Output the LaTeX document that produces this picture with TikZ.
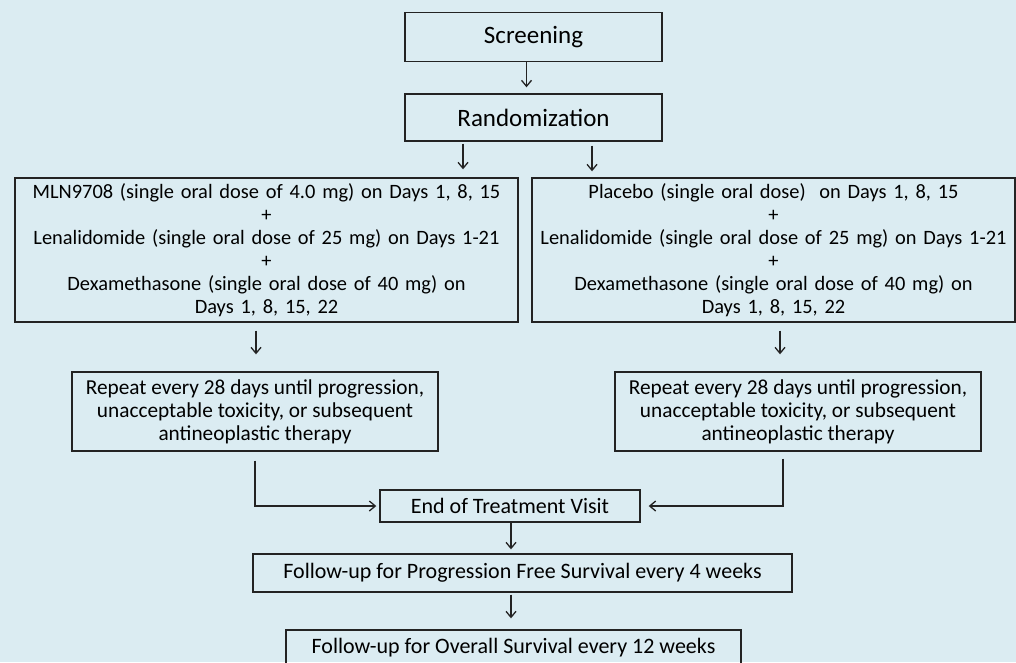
\documentclass[tikz,border=0pt]{standalone}
\usepackage{fontspec}
\setmainfont{Carlito}
\usepackage{tikz}
\usetikzlibrary{positioning,
				arrows.meta}
\definecolor{bgblue}{RGB}{219,236,242}
\definecolor{inkgray}{RGB}{35,35,35}
\frenchspacing

\begin{document}
\begin{tikzpicture}[x=1pt,y=-1pt,
		box/.style={draw=inkgray, line width=1.4pt, align=center, inner sep=0pt, font=\fontsize{22}{23}\selectfont},
		armbox/.style={box, text width=#1, inner xsep=5pt, minimum height=144, font=\fontsize{20.4}{23}\selectfont},
		repbox/.style={box, minimum width=366, minimum height=79, font=\fontsize{21.3}{23}\selectfont},
		arr/.style={-{Straight Barb[length=6pt,width=10pt]}, draw=inkgray, line width=1.3pt}]
	\useasboundingbox[fill=bgblue] (0,0) rectangle (1016,662);
	\clip (0,0) rectangle (1016,662);
	% top
	\node[box, minimum width=257, minimum height=49, font=\fontsize{25}{26}\selectfont] (screen) at (533.5,37) {Screening};
	\node[box, minimum width=257, minimum height=47, font=\fontsize{25}{26}\selectfont] (rand) at (533.5,117.5) {Randomization};
	% the two arms
	\node[armbox=493] (armA) at (266.5,250) {MLN9708 (single oral dose of 4.0 mg) on Days 1, 8, 15\\+\\Lenalidomide (single oral dose of 25 mg) on Days 1-21\\+\\Dexamethasone (single oral dose of 40 mg) on\\Days 1, 8, 15, 22};
	\node[armbox=473] (armB) at (773.5,250) {Placebo (single oral dose)\ \ on Days 1, 8, 15\\+\\Lenalidomide (single oral dose of 25 mg) on Days 1-21\\+\\Dexamethasone (single oral dose of 40 mg) on\\Days 1, 8, 15, 22};
	\node[repbox] (repA) at (255,411.5) {Repeat every 28 days until progression,\\unacceptable toxicity, or subsequent\\antineoplastic therapy};
	\node[repbox] (repB) at (798,411.5) {Repeat every 28 days until progression,\\unacceptable toxicity, or subsequent\\antineoplastic therapy};
	% bottom
	\node[box, minimum width=260, minimum height=32] (eot) at (510,506) {End of Treatment Visit};
	\node[box, minimum width=539, minimum height=38] (pfs) at (522.5,573) {Follow-up for Progression Free Survival every 4 weeks};
	\node[box, minimum width=455, minimum height=36] (os) at (513.5,648) {Follow-up for Overall Survival every 12 weeks};

	\draw[arr, shorten >=6pt] ([xshift=-7]screen.south) -- ([xshift=-7]rand.north);
	\draw[arr, shorten <=2pt, shorten >=8pt] ([xshift=-70.5]rand.south) -- ([xshift=-70.5]rand.south |- armA.north);
	\draw[arr, shorten <=4pt, shorten >=6pt] ([xshift=58.5]rand.south) -- ([xshift=58.5]rand.south |- armB.north);
	\draw[arr, shorten <=8pt, shorten >=17pt] ([xshift=-10.5]armA.south) -- ([xshift=-10.5]armA.south |- repA.north);
	\draw[arr, shorten <=8pt, shorten >=17pt] ([xshift=6.5]armB.south) -- ([xshift=6.5]armB.south |- repB.north);
	\draw[arr, shorten <=9pt, shorten >=3pt] (repA.south) |- (eot.west);
	\draw[arr, shorten <=7pt, shorten >=8pt] ([xshift=-15]repB.south) |- (eot.east);
	\draw[arr, shorten >=4pt] ([xshift=1]eot.south) -- ([xshift=1]eot.south |- pfs.north);
	\draw[arr, shorten <=2pt, shorten >=11pt] ([xshift=-11.5]pfs.south) -- ([xshift=-11.5]pfs.south |- os.north);
\end{tikzpicture}
\end{document}
